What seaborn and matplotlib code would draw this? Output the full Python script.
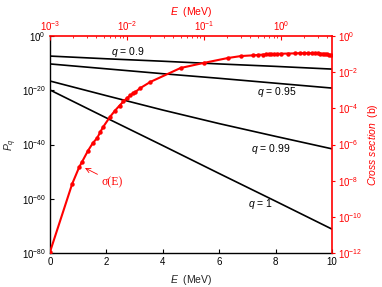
import numpy as np
import pandas as pd
import matplotlib
matplotlib.use("Agg")
import matplotlib.pyplot as plt
import matplotlib.ticker as mticker
import seaborn as sns

# ---- data ----
E_lines = [0, 2, 4, 6, 8, 10]                     # MeV (bottom axis)
logP_q090 = [-7.4, -8.4, -9.3, -10.3, -11.2, -12.2]
logP_q095 = [-10.3, -12.1, -13.9, -15.6, -17.4, -19.2]
logP_q099 = [-16.6, -22.0, -27.3, -32.3, -37.0, -41.6]
logP_q100 = [-19.9, -30.2, -40.4, -50.7, -60.9, -71.2]
q_names = ["q = 0.9", "q = 0.95", "q = 0.99", "q = 1"]

E_sigma = [0.001, 0.00194, 0.0024, 0.0026, 0.0031, 0.0036, 0.0041, 0.0045,
           0.0049, 0.006, 0.007, 0.008, 0.009, 0.010, 0.011, 0.012, 0.0128,
           0.0149, 0.0201, 0.0496, 0.0989, 0.203, 0.30, 0.43, 0.50, 0.58,
           0.63, 0.69, 0.75, 0.80, 0.90, 1.0, 1.25, 1.5, 1.75, 2.0, 2.25,
           2.5, 2.75, 3.0, 3.25, 3.5, 3.75, 4.0, 4.25, 4.5]
log_sigma = [-11.94, -8.18, -7.24, -6.97, -6.36, -5.92, -5.64, -5.31,
             -5.03, -4.48, -4.12, -3.85, -3.62, -3.44, -3.29, -3.17, -3.10,
             -2.88, -2.54, -1.77, -1.49, -1.22, -1.11, -1.07, -1.05, -1.03,
             -1.02, -1.01, -1.00, -1.00, -0.99, -0.98, -0.97, -0.96, -0.95,
             -0.95, -0.95, -0.95, -0.96, -0.96, -0.97, -0.98, -1.00, -1.02,
             -1.04, -1.05]

left_ticks = [1e0, 1e-20, 1e-40, 1e-60, 1e-80]
right_ticks = [1e0, 1e-2, 1e-4, 1e-6, 1e-8, 1e-10, 1e-12]
bottom_ticks = [0, 2, 4, 6, 8, 10]

# ---- style ----
sns.set_theme(style="ticks")
plt.rcParams["font.family"] = ["Liberation Sans", "DejaVu Sans"]
plt.rcParams["mathtext.fontset"] = "custom"
plt.rcParams["mathtext.rm"] = "Liberation Sans"
plt.rcParams["mathtext.it"] = "Liberation Sans:italic"
plt.rcParams["mathtext.bf"] = "Liberation Sans:bold"

RED = "#ff0000"
fs = 7

fig = plt.figure(figsize=(3.82, 2.87), dpi=100)
pos = [50 / 382, 1 - 253 / 287, 282 / 382, 217 / 287]
ax = fig.add_axes(pos)

rows = []
for name, vals in zip(q_names, [logP_q090, logP_q095, logP_q099, logP_q100]):
    for e, v in zip(E_lines, vals):
        rows.append({"E": e, "P": 10.0 ** v, "q": name})
df_lines = pd.DataFrame(rows)
sns.lineplot(data=df_lines, x="E", y="P", units="q", estimator=None,
             color="black", lw=1.2, ax=ax, legend=False)
ax.set_yscale("log")
ax.set_ylim(1e-80, 1e0)
ax.set_xlim(0, 10)
ax.set_yticks(left_ticks)
ax.yaxis.set_major_formatter(mticker.LogFormatterSciNotation())
ax.yaxis.set_minor_locator(mticker.NullLocator())
ax.set_xticks(bottom_ticks)
ax.tick_params(axis="both", which="major", direction="in", length=3,
               width=0.8, labelsize=fs, colors="black", pad=3)
ax.set_xlabel("$E$  (MeV)", fontsize=fs + 0.5, labelpad=4)
ax.set_ylabel("$P_q$", fontsize=fs + 0.5, labelpad=2)
for s in ["left", "bottom"]:
    ax.spines[s].set_color("black")
    ax.spines[s].set_linewidth(1.0)
for s in ["top", "right"]:
    ax.spines[s].set_visible(False)

# q labels (axes-fraction positions)
lab_pos = [(128, 52), (277, 92), (271, 149), (260, 204)]
for name, (px, py) in zip(q_names, lab_pos):
    txt = name.replace("q", "$q$", 1)
    ax.text((px - 50) / 282, (253 - py) / 217, txt, transform=ax.transAxes,
            ha="center", va="center", fontsize=fs + 0.5, color="black")

# ---- cross-section axes (top / right) ----
ax2 = fig.add_axes(pos, facecolor="none")
df_sig = pd.DataFrame({"E": E_sigma, "sigma": [10.0 ** v for v in log_sigma]})
sns.lineplot(data=df_sig, x="E", y="sigma", estimator=None, sort=False,
             color=RED, lw=1.5, marker="o", markersize=3.2,
             markeredgewidth=0, ax=ax2)
ax2.set_xscale("log")
ax2.set_yscale("log")
ax2.set_xlim(1e-3, 4.6)
ax2.set_ylim(1e-12, 1e0)
ax2.xaxis.set_label_position("top")
ax2.xaxis.tick_top()
ax2.yaxis.set_label_position("right")
ax2.yaxis.tick_right()
ax2.set_yticks(right_ticks)
ax2.yaxis.set_major_formatter(mticker.LogFormatterSciNotation())
ax2.yaxis.set_minor_locator(mticker.NullLocator())
ax2.xaxis.set_major_locator(mticker.LogLocator(base=10, numticks=10))
ax2.xaxis.set_minor_locator(mticker.LogLocator(base=10, subs=np.arange(2, 10), numticks=20))
ax2.xaxis.set_minor_formatter(mticker.NullFormatter())
ax2.tick_params(axis="x", which="major", direction="in", length=3, width=0.8,
                colors=RED, labelsize=fs, pad=2)
ax2.tick_params(axis="x", which="minor", direction="in", length=1.5, width=0.6,
                colors=RED)
ax2.tick_params(axis="y", which="major", direction="out", length=2.5, width=0.8,
                colors=RED, labelsize=fs, pad=1.5)
ax2.set_xlabel("$E$  (MeV)", fontsize=fs + 0.5, color=RED, labelpad=3)
ax2.set_ylabel("$Cross\\ section$  (b)", fontsize=fs + 0.5, color=RED,
               labelpad=3, rotation=90)
for s in ["left", "bottom"]:
    ax2.spines[s].set_visible(False)
for s in ["top", "right"]:
    ax2.spines[s].set_color(RED)
    ax2.spines[s].set_linewidth(1.2)

ax2.annotate("σ(E)", xy=((85 - 50) / 282, (253 - 168) / 217),
             xytext=((102 - 50) / 282, (253 - 182) / 217),
             xycoords="axes fraction", textcoords="axes fraction",
             ha="left", va="center", color=RED, fontsize=fs + 1.5,
             family=["Liberation Serif", "DejaVu Serif"],
             arrowprops=dict(arrowstyle="->", color=RED, lw=0.6,
                             shrinkA=1, shrinkB=0))

fig.savefig("out.png", dpi=100)
